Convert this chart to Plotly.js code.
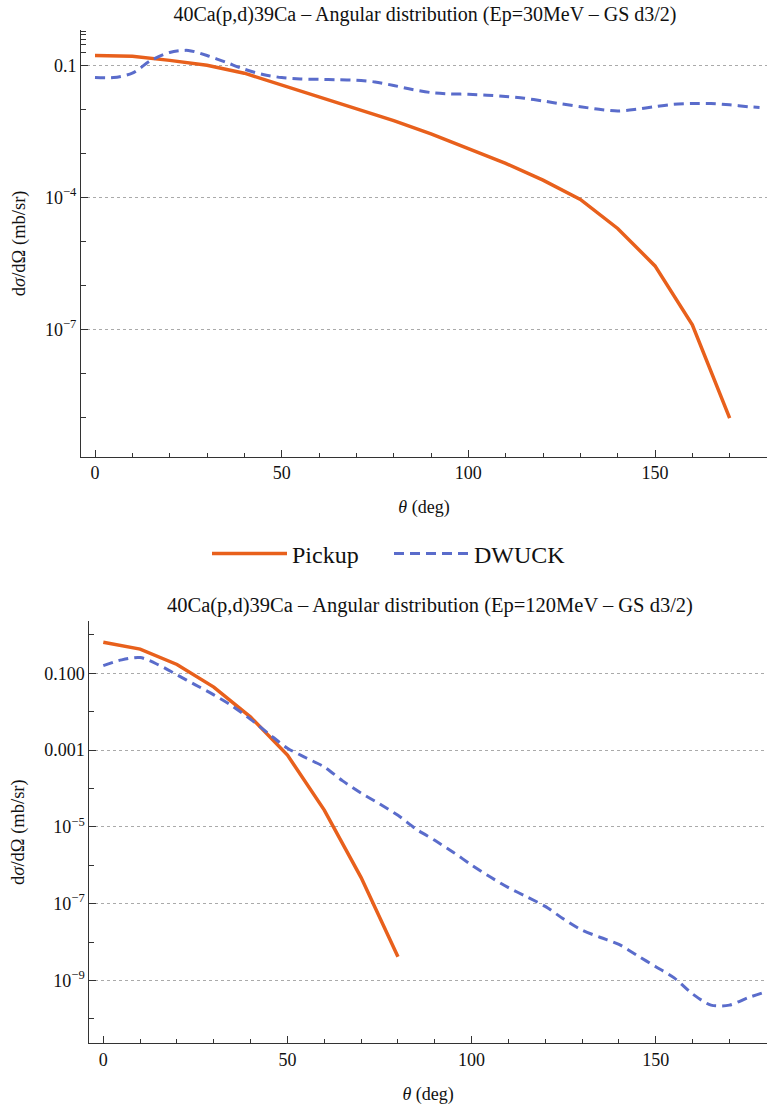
<!DOCTYPE html>
<html>
<head>
<meta charset="utf-8">
<script src="https://cdn.plot.ly/plotly-3.0.1.min.js"></script>
<style>html,body{margin:0;padding:0;background:#fff;}#chart{width:768px;height:1106px;}</style>
</head>
<body>
<div id="chart"></div>
<script>
// ---- Data ----
// Top panel: Ep = 30 MeV
const thetaPickup30 = [0,10,20,30,40,50,60,70,80,90,100,110,120,130,140,150,160,170];
const pickup30 = [0.170,0.164,0.132,0.102,0.0676,0.0363,0.0200,0.0107,5.62e-3,2.82e-3,1.32e-3,6.03e-4,2.51e-4,9.12e-5,2.00e-5,2.82e-6,1.29e-7,9.77e-10];
const thetaDwuck30 = [0,5,10,15,20,25,30,35,40,45,50,55,60,65,70,75,80,85,90,95,100,105,110,115,120,125,130,135,140,145,150,155,160,165,170,175,178];
const dwuck30 = [0.0537,0.0537,0.0676,0.132,0.200,0.222,0.170,0.120,0.0832,0.0631,0.0537,0.0501,0.0490,0.0479,0.0468,0.0427,0.0355,0.0288,0.0245,0.0229,0.0224,0.0214,0.0200,0.0182,0.0158,0.0135,0.0117,0.0102,9.33e-3,0.0102,0.0117,0.0132,0.0138,0.0138,0.0129,0.0117,0.0112];

// Bottom panel: Ep = 120 MeV
const thetaPickup120 = [0,10,20,30,40,50,60,70,80];
const pickup120 = [0.646,0.427,0.170,0.0437,7.24e-3,7.41e-4,2.75e-5,4.79e-7,4.17e-9];
const thetaDwuck120 = [0,5,10,15,20,25,30,35,40,45,50,55,60,65,70,75,80,85,90,95,100,105,110,115,120,125,130,135,140,145,150,155,160,165,170,175,180];
const dwuck120 = [0.158,0.224,0.257,0.166,0.0912,0.0501,0.0275,0.0141,6.31e-3,2.63e-3,1.12e-3,6.31e-4,3.63e-4,1.58e-4,7.59e-5,3.98e-5,2.00e-5,8.71e-6,4.47e-6,2.19e-6,1.02e-6,5.01e-7,2.63e-7,1.51e-7,8.51e-8,3.98e-8,2.04e-8,1.32e-8,8.71e-9,4.47e-9,2.29e-9,1.17e-9,4.47e-10,2.29e-10,2.29e-10,3.55e-10,5.13e-10];

// Tick definitions
const xMajor = [0,50,100,150];
const xMinor = [10,20,30,40,60,70,80,90,110,120,130,140,160,170];
const xGrid = [50,100,150];
const xTopMinor = [0,10,20,30,40,60,70,80,90,110,120,130,140,160,170];
const yMajor30 = [0.1,1e-4,1e-7];
const yMajorText30 = ['0.1','10<sup>−4</sup>','10<sup>−7</sup>'];
const yMinor30 = [0.6,0.5,0.4,0.3,0.2,1e-2,1e-3,1e-5,1e-6,1e-8,1e-9];
const yMajor120 = [0.1,1e-3,1e-5,1e-7,1e-9];
const yMajorText120 = ['0.100','0.001','10<sup>−5</sup>','10<sup>−7</sup>','10<sup>−9</sup>'];
const yMinor120 = [1,1e-2,1e-4,1e-6,1e-8,1e-10];

const titles = ['40Ca(p,d)39Ca – Angular distribution (Ep=30MeV – GS d3/2)',
                '40Ca(p,d)39Ca – Angular distribution (Ep=120MeV – GS d3/2)'];
const seriesNames = ['Pickup','DWUCK'];

// ---- Styling ----
const FONT = '"Liberation Serif", "Times New Roman", Times, serif';
const ORANGE = '#E8601C';
const BLUE = '#5A6CCB';
const AXC = '#333333';
const GRIDC = '#AAAAAA';
const W = 768, H = 1106;

const topPlot = {x0:81, x1:767, y0:30, y1:456.7, xr:[-3.75,180], yr:[-9.886,-0.189]};
const botPlot = {x0:89.3, x1:767, y0:621, y1:1043.3, xr:[-3.8,180.2], yr:[-10.635,0.362]};

function xdom(p){return [p.x0/W, p.x1/W];}
function ydom(p){return [1-p.y1/H, 1-p.y0/H];}

function mainX(p, anchor){
  return {domain:xdom(p), anchor:anchor, range:p.xr, showline:true, linecolor:AXC, linewidth:1,
    ticks:'inside', ticklen:7, tickcolor:AXC, tickwidth:1, tickmode:'array', tickvals:xMajor,
    showgrid:false, zeroline:false,
    minor:{tickmode:'array', tickvals:xMinor, ticks:'inside', ticklen:4, tickcolor:AXC, showgrid:false},
    tickfont:{family:FONT, size:18, color:'#111'},
    title:{text:'<i>θ</i> (deg)', font:{family:FONT, size:18, color:'#111'}, standoff:18}};
}
function topX(p, overlay, anchor){
  return {overlaying:overlay, side:'top', anchor:anchor, range:p.xr, showline:false,
    ticks:'inside', ticklen:7, tickcolor:AXC, tickwidth:1, tickmode:'array', tickvals:xGrid,
    showticklabels:false, showgrid:true, gridcolor:GRIDC, griddash:'dot', gridwidth:1, zeroline:false,
    minor:{tickmode:'array', tickvals:xTopMinor, ticks:'inside', ticklen:4, tickcolor:AXC, showgrid:false}};
}
function mainY(p, anchor, vals, text, minor){
  return {domain:ydom(p), anchor:anchor, type:'log', range:p.yr, showline:true, linecolor:AXC, linewidth:1,
    ticks:'inside', ticklen:7, tickcolor:AXC, tickwidth:1, tickmode:'array', tickvals:vals, ticktext:text,
    showgrid:true, gridcolor:GRIDC, griddash:'dot', gridwidth:1, zeroline:false,
    minor:{tickmode:'array', tickvals:minor, ticks:'inside', ticklen:5, tickcolor:AXC, showgrid:false},
    tickfont:{family:FONT, size:18, color:'#111'},
    title:{text:'d<i>σ</i>/dΩ (mb/sr)', font:{family:FONT, size:18.5, color:'#111'}, standoff:14}};
}
function rightY(p, overlay, anchor, vals, minor){
  return {overlaying:overlay, side:'right', anchor:anchor, type:'log', range:p.yr, showline:false,
    ticks:'inside', ticklen:7, tickcolor:AXC, tickwidth:1, tickmode:'array', tickvals:vals,
    showticklabels:false, showgrid:false, zeroline:false,
    minor:{tickmode:'array', tickvals:minor, ticks:'inside', ticklen:5, tickcolor:AXC, showgrid:false}};
}

const traces = [
  {x:thetaPickup30, y:pickup30, xaxis:'x', yaxis:'y', mode:'lines', name:seriesNames[0], legendgroup:'p',
   line:{color:ORANGE, width:3.5}},
  {x:thetaDwuck30, y:dwuck30, xaxis:'x', yaxis:'y', mode:'lines', name:seriesNames[1], legendgroup:'d',
   line:{color:BLUE, width:3, dash:'10px,6px', shape:'spline', smoothing:0.8}},
  {x:thetaPickup120, y:pickup120, xaxis:'x2', yaxis:'y2', mode:'lines', name:seriesNames[0], legendgroup:'p', showlegend:false,
   line:{color:ORANGE, width:3.5}},
  {x:thetaDwuck120, y:dwuck120, xaxis:'x2', yaxis:'y2', mode:'lines', name:seriesNames[1], legendgroup:'d', showlegend:false,
   line:{color:BLUE, width:3, dash:'10px,6px', shape:'spline', smoothing:0.8}}
];

const layout = {
  width:W, height:H, margin:{l:0,r:0,t:0,b:0}, paper_bgcolor:'#fff', plot_bgcolor:'rgba(0,0,0,0)',
  font:{family:FONT, color:'#111'},
  title:{text:titles[0], font:{family:FONT, size:20, color:'#111'}, x:425/W, xanchor:'center', xref:'container',
         y:1-14/H, yanchor:'middle', yref:'container'},
  showlegend:true,
  legend:{orientation:'h', x:389/W, xanchor:'center', y:1-554/H, yanchor:'middle',
          font:{family:FONT, size:24, color:'#111'}, itemwidth:75, entrywidth:92, entrywidthmode:'pixels',
          bgcolor:'rgba(0,0,0,0)'},
  xaxis: mainX(topPlot,'y'),
  yaxis: mainY(topPlot,'x', yMajor30, yMajorText30, yMinor30),
  xaxis3: topX(topPlot,'x','y3'),
  yaxis3: rightY(topPlot,'y','x3', yMajor30, yMinor30),
  xaxis2: mainX(botPlot,'y2'),
  yaxis2: mainY(botPlot,'x2', yMajor120, yMajorText120, yMinor120),
  xaxis4: topX(botPlot,'x2','y4'),
  yaxis4: rightY(botPlot,'y2','x4', yMajor120, yMinor120),
  annotations:[
    {text:titles[1], xref:'paper', yref:'paper', x:430/W, y:1-605/H, xanchor:'center', yanchor:'middle',
     showarrow:false, font:{family:FONT, size:20.5, color:'#111'}}
  ]
};

Plotly.newPlot('chart', traces, layout, {displayModeBar:false, staticPlot:true});
</script>
</body>
</html>
